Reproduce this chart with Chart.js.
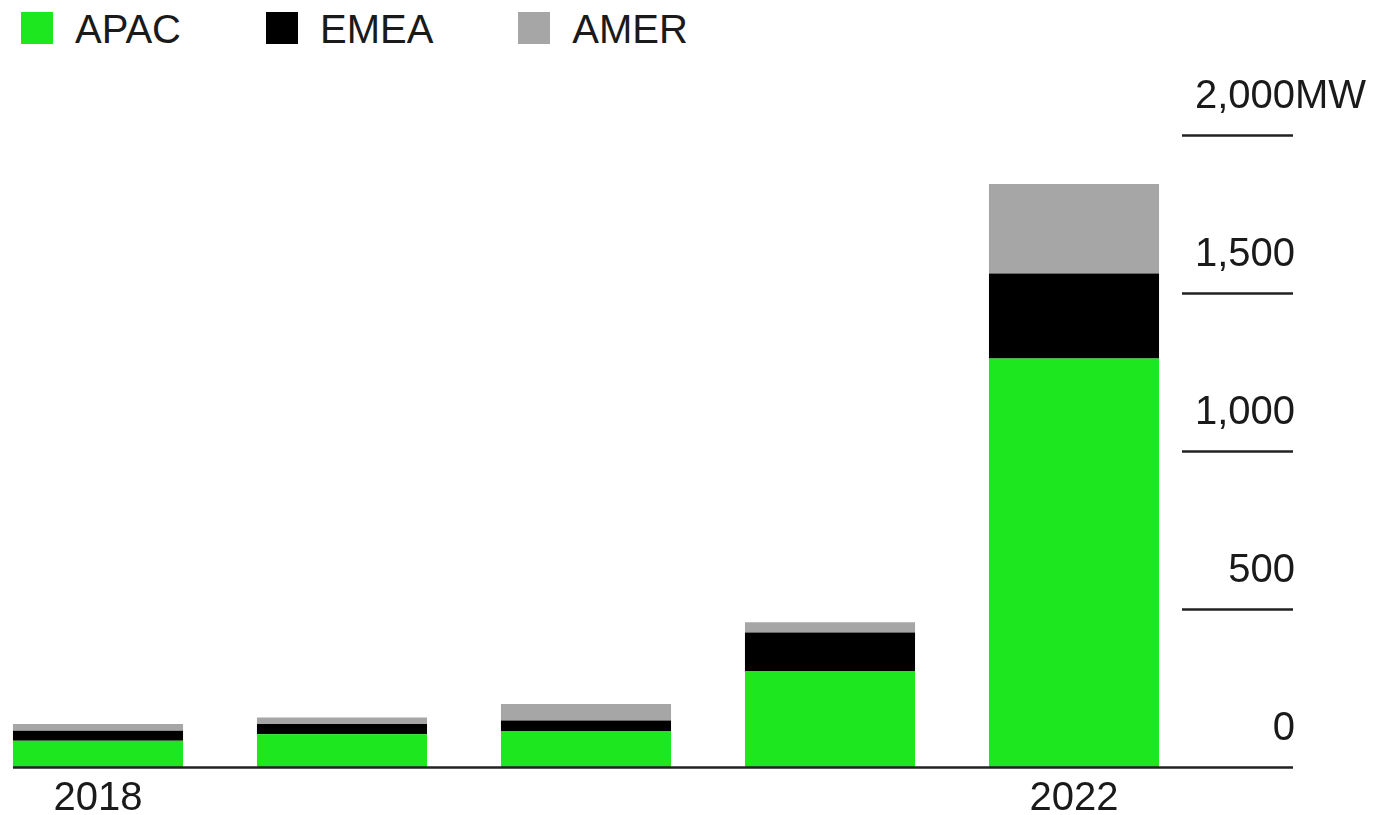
<!DOCTYPE html>
<html>
<head>
<meta charset="utf-8">
<script src="https://cdn.jsdelivr.net/npm/chart.js@4/dist/chart.umd.min.js"></script>
<style>
    html, body { margin: 0; padding: 0; background: #fff; overflow: hidden; }
    body { width: 1375px; height: 815px; position: relative; font-family: "Liberation Sans", Arial, sans-serif; }
    #chartBox { position: absolute; left: -24px; top: 0; width: 1399px; height: 815px; }
    #leyenda { position: absolute; left: 21px; top: 9px; display: flex; }
    .item { display: flex; align-items: center; margin-right: 85px; font-size: 40px; line-height: 40px; color: #1a1a1a; }
    .caja { width: 32px; height: 32px; margin-right: 22px; position: relative; top: -1px; }
</style>
</head>
<body>
<div id="leyenda"></div>
<div id="chartBox"><canvas id="grafica"></canvas></div>
<script>
const categorias = ['2018', '2019', '2020', '2021', '2022'];
const anosVisibles = ['2018', '2022'];
const apac = [83, 104, 114, 304, 1293];
const emea = [32, 32, 33, 122, 269];
const amer = [21, 21, 52, 32, 283];
const ticksY = [0, 500, 1000, 1500, 2000];
const unidad = 'MW';

const colores = { APAC: '#1de81f', EMEA: '#000000', AMER: '#a6a6a6' };
const fuente = '40px "Liberation Sans", Arial, sans-serif';
const colorTexto = '#1a1a1a';
const colorLinea = '#222';

// ejes, etiquetas y linea base dibujados a mano sobre las escalas del grafico
const ejesPlugin = {
    id: 'ejesPlugin',
    afterDatasetsDraw(chart) {
        const ctx = chart.ctx;
        const area = chart.chartArea;
        const y = chart.scales.y;
        const x = chart.scales.x;
        const inicioTick = area.right - 14;
        const finTick = area.right + 97;

        ctx.save();
        ctx.strokeStyle = colorLinea;
        ctx.lineWidth = 2.5;
        ctx.font = fuente;
        ctx.fillStyle = colorTexto;
        ctx.textBaseline = 'alphabetic';

        const primera = chart.getDatasetMeta(0).data[0];
        const inicioBase = primera.x - primera.width / 2;

        ticksY.forEach(v => {
            const py = Math.round(y.getPixelForValue(v)) + 0.5;
            ctx.beginPath();
            ctx.moveTo(v === 0 ? inicioBase : inicioTick, py);
            ctx.lineTo(finTick, py);
            ctx.stroke();

            const texto = v.toLocaleString('en-US');
            ctx.textAlign = 'right';
            ctx.fillText(texto, finTick + 2, py - 28);
            if (v === ticksY[ticksY.length - 1]) {
                ctx.textAlign = 'left';
                ctx.fillText(unidad, finTick + 2, py - 28);
            }
        });

        ctx.textAlign = 'center';
        anosVisibles.forEach(a => {
            const i = categorias.indexOf(a);
            ctx.fillText(a, x.getPixelForValue(i), area.bottom + 43);
        });
        ctx.restore();
    }
};

const grafica = new Chart(document.getElementById('grafica'), {
    type: 'bar',
    data: {
        labels: categorias,
        datasets: [
            { label: 'APAC', data: apac, backgroundColor: colores.APAC },
            { label: 'EMEA', data: emea, backgroundColor: colores.EMEA },
            { label: 'AMER', data: amer, backgroundColor: colores.AMER }
        ]
    },
    options: {
        responsive: true,
        maintainAspectRatio: false,
        animation: false,
        layout: { padding: { left: 0, right: 179, top: 135, bottom: 48 } },
        datasets: { bar: { categoryPercentage: 1, barPercentage: 0.697, borderWidth: 0 } },
        plugins: { legend: { display: false }, tooltip: { enabled: false } },
        scales: {
            x: { stacked: true, display: false, offset: true },
            y: { stacked: true, display: false, min: 0, max: 2000 }
        }
    },
    plugins: [ejesPlugin]
});

const leyenda = document.getElementById('leyenda');
grafica.data.datasets.forEach(ds => {
    const item = document.createElement('div');
    item.className = 'item';
    item.innerHTML = `<span class="caja" style="background:${ds.backgroundColor}"></span><span>${ds.label}</span>`;
    leyenda.appendChild(item);
});
</script>
</body>
</html>
